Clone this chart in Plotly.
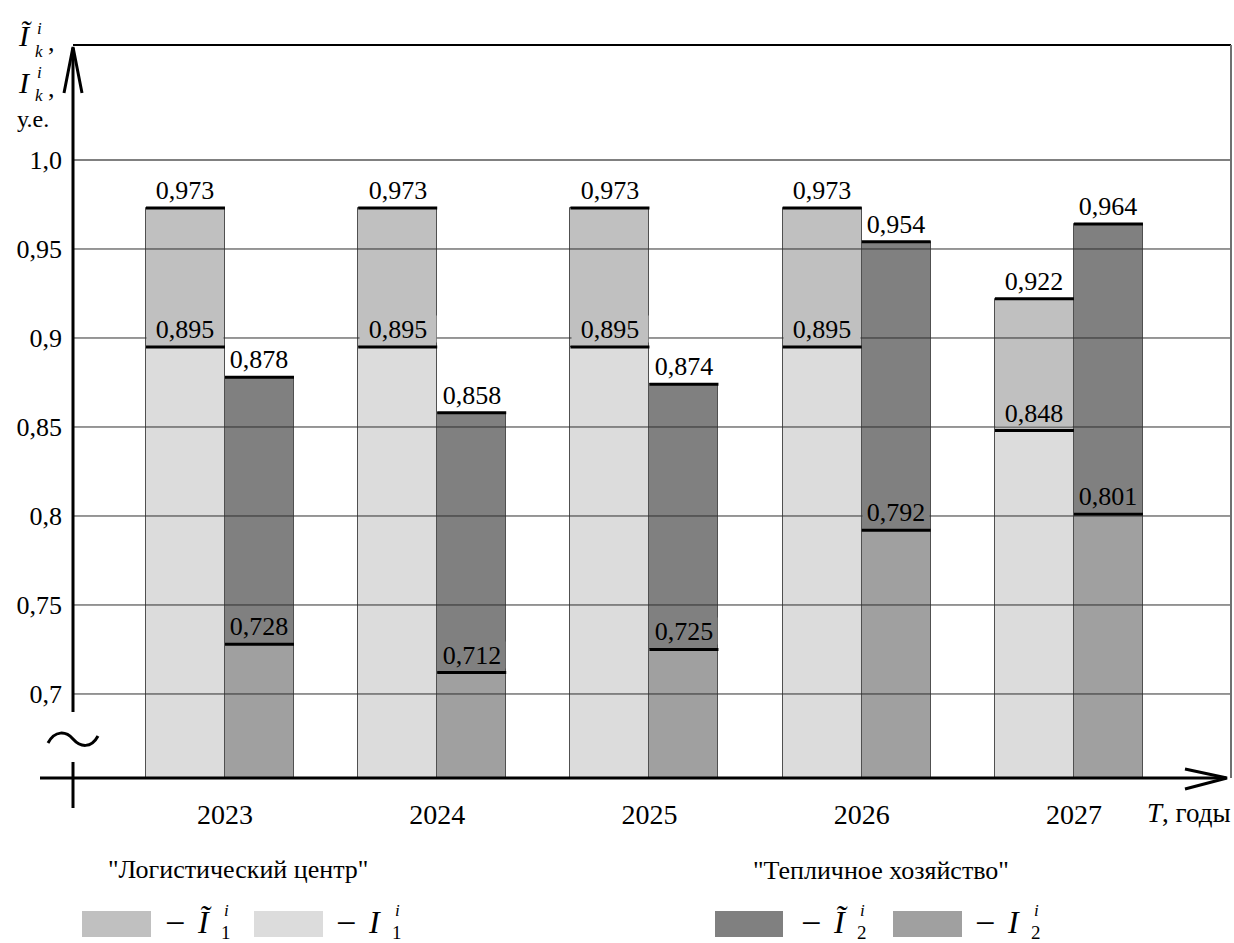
import plotly.graph_objects as go

# ---------------- data ----------------
years = [2023, 2024, 2025, 2026, 2027]
year_labels = ["2023", "2024", "2025", "2026", "2027"]
I1_tilde = [0.973, 0.973, 0.973, 0.973, 0.922]   # "Логистический центр", Ĩ1
I1 = [0.895, 0.895, 0.895, 0.895, 0.848]         # "Логистический центр", I1
I2_tilde = [0.878, 0.858, 0.874, 0.954, 0.964]   # "Тепличное хозяйство", Ĩ2
I2 = [0.728, 0.712, 0.725, 0.792, 0.801]         # "Тепличное хозяйство", I2
y_ticks = [0.7, 0.75, 0.8, 0.85, 0.9, 0.95, 1.0]
y_tick_labels = ["0,7", "0,75", "0,8", "0,85", "0,9", "0,95", "1,0"]

# ---------------- style ----------------
C_I1T, C_I1, C_I2T, C_I2 = "#c0c0c0", "#dcdcdc", "#808080", "#a0a0a0"
FONT = "Liberation Serif, Times New Roman, serif"
W, H = 1234, 943
L, R, T, B = 73, 1231, 45, 778          # plot area in pixels
YR = [0.6528, 1.0646]
XR = [2022.284, 2027.74]
PX_PER_YEAR = (R - L) / (XR[1] - XR[0])
W1 = 79 / PX_PER_YEAR   # width of left bar (logistics)
W2 = 69 / PX_PER_YEAR   # width of right bar (greenhouse)


def px(p):
    return (p - L) / (R - L)


def py(p):
    return (B - p) / (B - T)


fig = go.Figure()

bar_specs = [
    (I1_tilde, C_I1T, -W1, W1),
    (I1, C_I1, -W1, W1),
    (I2_tilde, C_I2T, 0.0, W2),
    (I2, C_I2, 0.0, W2),
]
for vals, col, off, wid in bar_specs:
    fig.add_trace(go.Bar(
        x=years, y=vals, offset=off, width=wid,
        marker=dict(color=col, line=dict(color="#505050", width=1)),
        hoverinfo="skip", showlegend=False,
    ))

# thick black line at the top of each bar
for vals, col, off, wid in bar_specs:
    xs, ys = [], []
    for yr, v in zip(years, vals):
        xs += [yr + off, yr + off + wid, None]
        ys += [v, v, None]
    fig.add_trace(go.Scatter(x=xs, y=ys, mode="lines",
                             line=dict(color="black", width=3),
                             hoverinfo="skip", showlegend=False))

shapes = []
# gridlines (drawn over the bars)
for v in y_ticks:
    shapes.append(dict(type="line", xref="paper", yref="y", x0=0, x1=1, y0=v, y1=v,
                       layer="above",
                       line=dict(color="#808080" if v == max(y_ticks) else "#303030",
                                 width=2 if v == max(y_ticks) else 1)))
# frame
shapes.append(dict(type="line", xref="paper", yref="paper", x0=0, x1=1, y0=1, y1=1,
                   line=dict(color="black", width=2)))
shapes.append(dict(type="line", xref="paper", yref="paper", x0=1, x1=1, y0=0, y1=1,
                   line=dict(color="#707070", width=2)))
# y axis with break
shapes.append(dict(type="line", xref="paper", yref="paper", x0=px(73), x1=px(73),
                   y0=py(48), y1=py(712), line=dict(color="black", width=3)))
shapes.append(dict(type="line", xref="paper", yref="paper", x0=px(73), x1=px(73),
                   y0=py(762), y1=py(808), line=dict(color="black", width=3)))
# x axis
shapes.append(dict(type="line", xref="paper", yref="paper", x0=px(40), x1=px(1226),
                   y0=py(778), y1=py(778), line=dict(color="black", width=3)))
# arrows
shapes.append(dict(type="path", xref="paper", yref="paper",
                   path=f"M{px(64)},{py(93)} L{px(73)},{py(47)} L{px(82)},{py(93)}",
                   line=dict(color="black", width=3)))
shapes.append(dict(type="path", xref="paper", yref="paper",
                   path=f"M{px(1185)},{py(769)} L{px(1227)},{py(778)} L{px(1185)},{py(789)}",
                   line=dict(color="black", width=3)))
# break symbol (~)
shapes.append(dict(type="path", xref="paper", yref="paper",
                   path=(f"M{px(48)},{py(743)} C{px(55)},{py(730)} {px(66)},{py(731)} {px(73)},{py(739)} "
                         f"C{px(80)},{py(747)} {px(91)},{py(749)} {px(98)},{py(736)}"),
                   line=dict(color="black", width=3)))

# legend swatches
legend_boxes = [(82, 151, C_I1T), (254, 323, C_I1), (715, 783, C_I2T), (893, 962, C_I2)]
for x0, x1, col in legend_boxes:
    shapes.append(dict(type="rect", xref="paper", yref="paper",
                       x0=px(x0), x1=px(x1), y0=py(937), y1=py(911),
                       fillcolor=col, line=dict(width=0)))

annotations = []
# bar value labels
lab_specs = [
    (I1_tilde, -W1 / 2, 79, None),
    (I1, -W1 / 2, 79, C_I1T),
    (I2_tilde, W2 / 2, 69, None),
    (I2, W2 / 2, 69, C_I2T),
]
for vals, dx, wpx, bg in lab_specs:
    for yr, v in zip(years, vals):
        annotations.append(dict(
            x=yr + dx, y=v, xref="x", yref="y", yanchor="bottom", xanchor="center",
            yshift=4, text=f"{v:.3f}".replace(".", ","), showarrow=False,
            width=wpx - 3, height=26, borderpad=0,
            bgcolor=bg if bg else "rgba(0,0,0,0)",
            font=dict(family=FONT, size=26, color="black")))


def txt(x, y, text, size, xanchor="left", yanchor="middle"):
    annotations.append(dict(x=px(x), y=py(y), xref="paper", yref="paper", text=text,
                            showarrow=False, xanchor=xanchor, yanchor=yanchor,
                            borderpad=0,
                            font=dict(family=FONT, size=size, color="black")))


# y axis title
txt(17, 36, "<i>Ĩ</i>", 30)
txt(36, 28, "<i>i</i>", 17)
txt(34, 51, "<i>k</i>", 17)
txt(47, 43, ",", 26)
txt(17, 82, "<i>I</i>", 30)
txt(36, 72, "<i>i</i>", 17)
txt(34, 96, "<i>k</i>", 17)
txt(47, 89, ",", 26)
txt(16, 119, "у.е.", 24)

# x axis title
txt(1146, 813, "<i>T</i>, годы", 27)

# legend text
txt(238, 869, "\"Логистический центр\"", 26, xanchor="center")
txt(881, 870, "\"Тепличное хозяйство\"", 26, xanchor="center")
legend_syms = [(164, "1", True), (335, "1", False), (800, "2", True), (974, "2", False)]
for x0, sub, tilde in legend_syms:
    txt(x0, 923, "−", 36)
    txt(x0 + 32, 922, "<i>Ĩ</i>" if tilde else "<i>I</i>", 32)
    txt(x0 + 59, 910, "<i>i</i>", 17)
    txt(x0 + 56, 933, sub, 19)

fig.update_layout(
    width=W, height=H,
    margin=dict(l=L, r=W - R, t=T, b=H - B),
    paper_bgcolor="white", plot_bgcolor="white",
    barmode="overlay", bargap=0,
    xaxis=dict(range=XR, tickvals=years, ticktext=year_labels, showgrid=False,
               zeroline=False, showline=False, ticks="", ticklabelstandoff=17,
               tickfont=dict(family=FONT, size=28, color="black")),
    yaxis=dict(range=YR, tickvals=y_ticks, ticktext=y_tick_labels, showgrid=False,
               zeroline=False, showline=False, ticks="", ticklabelstandoff=10,
               tickfont=dict(family=FONT, size=26, color="black")),
    shapes=shapes, annotations=annotations, showlegend=False,
)

fig.write_html("out.html", config={"displayModeBar": False},
               post_script="document.body.style.margin='0px';")
